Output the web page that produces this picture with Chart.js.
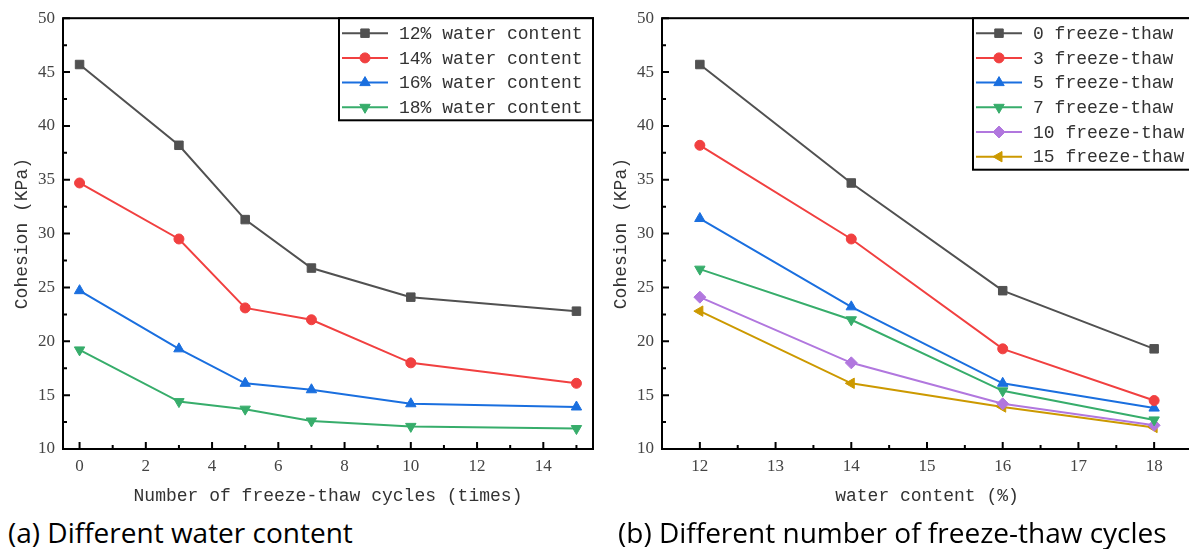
<!DOCTYPE html>
<html>
<head>
<meta charset="utf-8">
<script src="https://cdn.jsdelivr.net/npm/chart.js@4/dist/chart.umd.min.js"></script>
<style>
  body { margin: 0; width: 1189px; height: 549px; overflow: hidden; background: #fff; position: relative; }
  canvas { position: absolute; top: 0; }
  .cap { position: absolute; top: 518px; font-family: "Open Sans", sans-serif; font-size: 28px; line-height: 28px; color: #000; white-space: nowrap; }
</style>
</head>
<body>
<canvas id="c1" width="600" height="507" style="left:0px"></canvas>
<canvas id="c2" width="600" height="507" style="left:599px"></canvas>
<div class="cap" style="left:8px">(a) Different water content</div>
<div class="cap" style="left:618px">(b) Different number of freeze-thaw cycles</div>
<script>
// chart (a): cohesion vs freeze-thaw cycles
var ciclos = [0, 3, 5, 7, 10, 15];
var agua12 = [45.7, 38.2, 31.3, 26.8, 24.1, 22.8];
var agua14 = [34.7, 29.5, 23.1, 22.0, 18.0, 16.1];
var agua16 = [24.7, 19.3, 16.1, 15.5, 14.2, 13.9];
var agua18 = [19.2, 14.4, 13.7, 12.6, 12.1, 11.9];
var nomesA = ['12% water content', '14% water content', '16% water content', '18% water content'];
var ticksXA = [0, 2, 4, 6, 8, 10, 12, 14];

// chart (b): cohesion vs water content
var teorAgua = [12, 14, 16, 18];
var ft0 = [45.7, 34.7, 24.7, 19.3];
var ft3 = [38.2, 29.5, 19.3, 14.5];
var ft5 = [31.4, 23.2, 16.1, 13.8];
var ft7 = [26.7, 22.0, 15.4, 12.7];
var ft10 = [24.1, 18.0, 14.2, 12.2];
var ft15 = [22.8, 16.1, 13.9, 12.0];
var nomesB = ['0 freeze-thaw', '3 freeze-thaw', '5 freeze-thaw', '7 freeze-thaw', '10 freeze-thaw', '15 freeze-thaw'];
var ticksXB = [12, 13, 14, 15, 16, 17, 18];

var ticksY = [10, 15, 20, 25, 30, 35, 40, 45, 50];

var cores = ['#515151', '#F14040', '#1A6FDF', '#37AD6B', '#B177DE', '#CC9900'];
var marcas = [
    { pointStyle: 'rect', radius: 6, rotation: 0 },
    { pointStyle: 'circle', radius: 5, rotation: 0 },
    { pointStyle: 'triangle', radius: 6, rotation: 0 },
    { pointStyle: 'triangle', radius: 6, rotation: 180 },
    { pointStyle: 'rectRot', radius: 6, rotation: 0 },
    { pointStyle: 'triangle', radius: 6, rotation: 270 }
];

var fonteMono = '"Liberation Mono", monospace';
var fonteTick = '"Liberation Serif", serif';

function serie(nome, valores, xs, i) {
    return {
        label: nome,
        data: xs.map(function (x, k) { return { x: x, y: valores[k] }; }),
        borderColor: cores[i],
        backgroundColor: cores[i],
        borderWidth: 2,
        pointStyle: marcas[i].pointStyle,
        pointRadius: marcas[i].radius,
        pointRotation: marcas[i].rotation,
        pointBorderWidth: 1,
        pointHoverRadius: marcas[i].radius,
        fill: false,
        tension: 0
    };
}

function fixaTicks(lista) {
    return function (s) {
        s.ticks = lista.map(function (v) { return { value: v }; });
    };
}

// box around plot + inward ticks + legend box
var moldura = {
    id: 'moldura',
    afterDraw: function (chart, args, opts) {
        var ctx = chart.ctx;
        var a = chart.chartArea;
        ctx.save();
        ctx.strokeStyle = '#000';
        ctx.lineWidth = 2;
        ctx.strokeRect(a.left, a.top, a.right - a.left, a.bottom - a.top);

        ['x', 'y'].forEach(function (id) {
            var s = chart.scales[id];
            var vals = s.ticks.map(function (t) { return t.value; });
            var passo = vals[1] - vals[0];
            var menores = [];
            for (var v = vals[0] - passo / 2; v < s.max; v += passo) {
                if (v > s.min) menores.push(v);
            }
            ctx.lineWidth = 2;
            ctx.beginPath();
            vals.forEach(function (v) {
                var p = s.getPixelForValue(v);
                if (id === 'x') { ctx.moveTo(p, a.bottom); ctx.lineTo(p, a.bottom - 7); }
                else { ctx.moveTo(a.left, p); ctx.lineTo(a.left + 7, p); }
            });
            menores.forEach(function (v) {
                var p = s.getPixelForValue(v);
                if (id === 'x') { ctx.moveTo(p, a.bottom); ctx.lineTo(p, a.bottom - 4); }
                else { ctx.moveTo(a.left, p); ctx.lineTo(a.left + 4, p); }
            });
            ctx.stroke();
        });

        // legend
        var ds = chart.data.datasets;
        var x0 = a.right - opts.largura;
        var y0 = a.top;
        var alt = opts.primeira + (ds.length - 1) * opts.linha + opts.resto;
        ctx.fillStyle = '#fff';
        ctx.fillRect(x0, y0, opts.largura, alt);
        ctx.strokeStyle = '#000';
        ctx.lineWidth = 2;
        ctx.strokeRect(x0, y0, opts.largura, alt);
        ctx.font = '18px ' + fonteMono;
        ctx.textBaseline = 'middle';
        ds.forEach(function (d, i) {
            var yy = y0 + opts.primeira + i * opts.linha;
            ctx.strokeStyle = d.borderColor;
            ctx.fillStyle = d.backgroundColor;
            ctx.lineWidth = 2;
            ctx.beginPath();
            ctx.moveTo(x0 + 3, yy);
            ctx.lineTo(x0 + 49, yy);
            ctx.stroke();
            ctx.lineWidth = 1;
            Chart.helpers.drawPoint(ctx, {
                pointStyle: d.pointStyle,
                radius: d.pointRadius,
                rotation: d.pointRotation,
                borderWidth: 1
            }, x0 + 26, yy);
            ctx.fillStyle = '#333';
            ctx.fillText(d.label, x0 + 60, yy + 1);
        });
        ctx.restore();
    }
};

function opcoes(xmin, xmax, ticksX, tituloX, area, caixa) {
    return {
        responsive: false,
        animation: false,
        layout: { padding: { left: 0, right: 600 - 63 - area, top: 18, bottom: 0 } },
        plugins: {
            legend: { display: false },
            tooltip: { enabled: false },
            moldura: { largura: caixa, primeira: 15, linha: 24.7, resto: 13 }
        },
        scales: {
            x: {
                type: 'linear',
                min: xmin,
                max: xmax,
                afterBuildTicks: fixaTicks(ticksX),
                grid: { display: false, drawTicks: false },
                border: { display: false },
                ticks: { padding: 7, color: '#444', font: { family: fonteTick, size: 17 } },
                title: { display: true, text: tituloX, color: '#333', padding: { top: 0, bottom: 0 }, font: { family: fonteMono, size: 18 } },
                afterFit: function (s) { s.height = 507 - 449; }
            },
            y: {
                min: 10,
                max: 50,
                afterBuildTicks: fixaTicks(ticksY),
                grid: { display: false, drawTicks: false },
                border: { display: false },
                ticks: { padding: 8, color: '#444', font: { family: fonteTick, size: 17 } },
                title: { display: true, text: 'Cohesion (KPa)', color: '#333', padding: { top: 11, bottom: 0 }, font: { family: fonteMono, size: 18 } },
                afterFit: function (s) { s.width = 63; }
            }
        }
    };
}

new Chart(document.getElementById('c1'), {
    type: 'line',
    data: {
        datasets: [
            serie(nomesA[0], agua12, ciclos, 0),
            serie(nomesA[1], agua14, ciclos, 1),
            serie(nomesA[2], agua16, ciclos, 2),
            serie(nomesA[3], agua18, ciclos, 3)
        ]
    },
    options: opcoes(-0.5, 15.5, ticksXA, 'Number of freeze-thaw cycles (times)', 534, 254),
    plugins: [moldura]
});

new Chart(document.getElementById('c2'), {
    type: 'line',
    data: {
        datasets: [
            serie(nomesB[0], ft0, teorAgua, 0),
            serie(nomesB[1], ft3, teorAgua, 1),
            serie(nomesB[2], ft5, teorAgua, 2),
            serie(nomesB[3], ft7, teorAgua, 3),
            serie(nomesB[4], ft10, teorAgua, 4),
            serie(nomesB[5], ft15, teorAgua, 5)
        ]
    },
    options: opcoes(11.5, 18.5, ticksXB, 'water content (%)', 531, 219),
    plugins: [moldura]
});
</script>
</body>
</html>
